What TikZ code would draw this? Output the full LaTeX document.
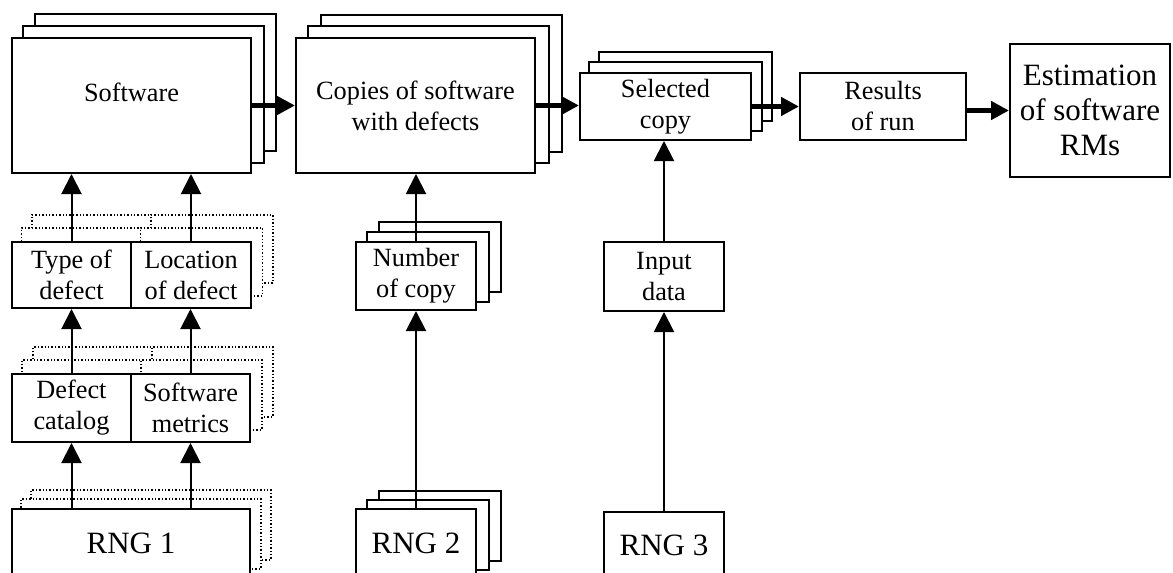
\documentclass[tikz,border=0pt]{standalone}
\usepackage{fontspec}
\setmainfont{Liberation Serif}
\usetikzlibrary{arrows.meta,backgrounds}

% copies drawn behind the given boxes: #1 nodes, #2 dx, #3 dy, #4 line style
\newcommand{\copystack}[4]{%
  \begin{pgfonlayer}{background}
    \foreach \k in {2,1}
      \foreach \n in {#1}
        \draw[#4, fill=white] ([shift={({\k*(#2)},{\k*(#3)})}]\n.south west)
          rectangle ([shift={({\k*(#2)},{\k*(#3)})}]\n.north east);
  \end{pgfonlayer}}

\begin{document}
\begin{tikzpicture}[x=0.5pt, y=-0.5pt,
  every node/.style={font=\fontsize{13.15}{15.5}\selectfont},
  box/.style={draw, fill=white, line width=1pt, align=center, inner sep=1pt},
  big/.style={font=\fontsize{15.5}{17.5}\selectfont},
  flow/.style={line width=2.8pt, -{Triangle[length=9pt,width=9pt]}},
  feed/.style={line width=1pt, -{Triangle[length=10pt,width=10pt]}},
  solidcopy/.style={line width=1pt},
  ghost/.style={line width=0.7pt, densely dotted}]
  \useasboundingbox (0,0) rectangle (1173,573);
  \clip (0,0) rectangle (1173,573);

  % top row
  \node[box, minimum width=119.5pt, minimum height=67.5pt, text depth=13pt] (sw) at (131.5,105.5) {Software};
  \node[box, minimum width=119.5pt, minimum height=67.5pt] (copies) at (415.5,105.5) {Copies of software\\with defects};
  \node[box, minimum width=85.5pt, minimum height=33.5pt] (sel) at (665.5,106.5) {Selected\\copy};
  \node[box, minimum width=83pt, minimum height=33.5pt] (res) at (883,106.5) {Results\\of run};
  \node[box, big, minimum width=80pt, minimum height=66.5pt] (est) at (1090,110.5) {Estimation\\of software\\RMs};
  \copystack{sw}{11.75}{-11.5}{solidcopy}
  \copystack{copies}{13}{-11}{solidcopy}
  \copystack{sel}{10}{-10}{solidcopy}

  % defect column
  \node[box, minimum width=59.5pt, minimum height=33pt] (type) at (71.5,275) {Type of\\defect};
  \node[box, minimum width=60pt, minimum height=33pt] (loc) at (191,275) {Location\\of defect};
  \node[box, minimum width=59.5pt, minimum height=34pt] (cat) at (71.5,408) {Defect\\catalog};
  \node[box, minimum width=59.5pt, minimum height=34pt] (met) at (190.5,408) {Software\\metrics};
  \node[box, big, minimum width=119pt, minimum height=34pt] (rng1) at (131,543) {RNG 1};
  \copystack{type,loc}{10.5}{-13}{ghost}
  \copystack{cat,met}{11}{-13}{ghost}
  \copystack{rng1}{10}{-9}{ghost}

  % copy number column
  \node[box, minimum width=60pt, minimum height=34pt] (num) at (416,276) {Number\\of copy};
  \node[box, big, minimum width=60pt, minimum height=34pt] (rng2) at (416,543) {RNG 2};
  \copystack{num}{12}{-9.5}{solidcopy}
  \copystack{rng2}{12}{-8.5}{solidcopy}

  % input column
  \node[box, minimum width=60pt, minimum height=34.5pt] (inp) at (664,276.5) {Input\\data};
  \node[box, big, minimum width=60pt, minimum height=33pt] (rng3) at (664,545) {RNG 3};

  % main flow
  \draw[flow] (sw.east) -- (sw.east -| copies.west);
  \draw[flow] (copies.east) -- (copies.east -| sel.west);
  \draw[flow] (sel.east) -- (sel.east -| res.west);
  \draw[flow] (res.east |- est.west) -- (est.west);

  % feeding arrows
  \draw[feed] (type.north) -- (type.north |- sw.south);
  \draw[feed] (loc.north) -- (loc.north |- sw.south);
  \draw[feed] (cat.north) -- (cat.north |- type.south);
  \draw[feed] (met.north) -- (met.north |- loc.south);
  \draw[feed] (rng1.north -| cat) -- (cat.south);
  \draw[feed] (rng1.north -| met) -- (met.south);
  \draw[feed] (num.north) -- (num.north |- copies.south);
  \draw[feed] (rng2.north) -- (num.south);
  \draw[feed] (inp.north) -- (inp.north |- sel.south);
  \draw[feed] (rng3.north) -- (inp.south);
\end{tikzpicture}
\end{document}
